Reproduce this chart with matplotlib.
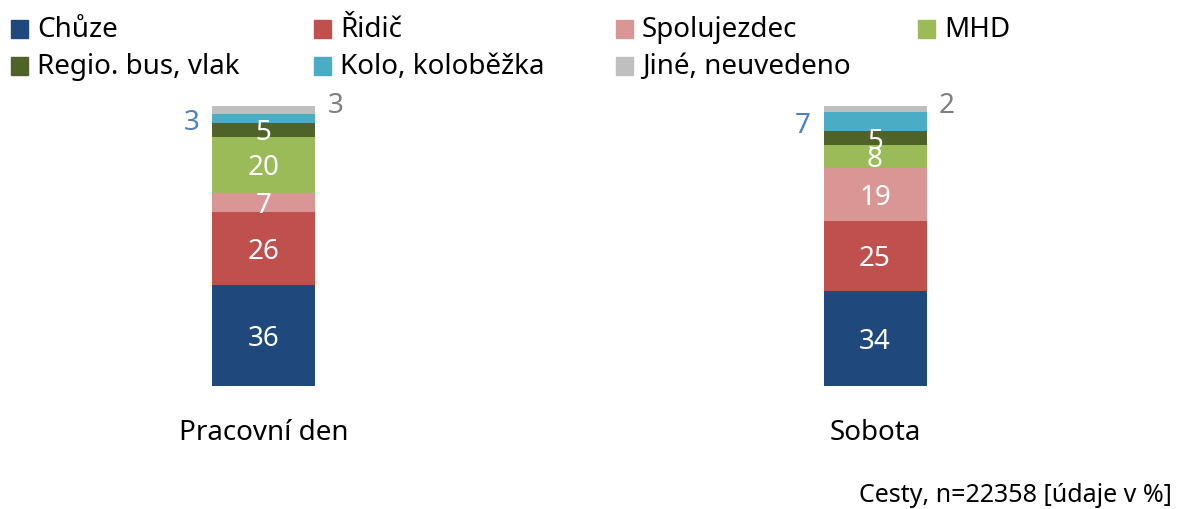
import matplotlib
matplotlib.use("Agg")
import matplotlib.pyplot as plt
from matplotlib.patches import Rectangle

plt.rcParams['font.family'] = ['Noto Sans', 'DejaVu Sans']

categories = ["Pracovní den", "Sobota"]
series = ["Chůze", "Řidič", "Spolujezdec", "MHD", "Regio. bus, vlak", "Kolo, koloběžka", "Jiné, neuvedeno"]
chuze = [36, 34]
ridic = [26, 25]
spolujezdec = [7, 19]
mhd = [20, 8]
regio = [5, 5]
kolo = [3, 7]
jine = [3, 2]
values = [chuze, ridic, spolujezdec, mhd, regio, kolo, jine]
colors = ["#1F497D", "#C0504D", "#DA9694", "#9BBB59", "#4F6228", "#4BACC6", "#BFBFBF"]
footnote = "Cesty, n=22358 [údaje v %]"

W, H = 1179, 509
fig = plt.figure(figsize=(W / 100, H / 100), dpi=100)
ax = fig.add_axes([0, 0, 1, 1])
ax.set_xlim(-263.5 / 611.5, 1 + (W - 875) / 611.5)
ax.set_ylim(-(H - 386) / 2.8, 386 / 2.8)
ax.axis('off')

fs = 20
x = list(range(len(categories)))
width = 103 / 611.5
bottoms = [0.0] * len(categories)
for i, (name, vals, col) in enumerate(zip(series, values, colors)):
    ax.bar(x, vals, width=width, bottom=bottoms, color=col, linewidth=0)
    for j, (b, v) in enumerate(zip(bottoms, vals)):
        cy = b + v / 2
        if name == "Kolo, koloběžka":
            ax.annotate(str(v), (x[j] - width / 2, cy), xytext=(-9, -3), textcoords='offset points',
                        ha='right', va='center', color="#4F81BD", fontsize=fs)
        elif name == "Jiné, neuvedeno":
            ax.annotate(str(v), (x[j] + width / 2, b + v), xytext=(9, 0), textcoords='offset points',
                        ha='left', va='center', color="#7F7F7F", fontsize=fs)
        else:
            ax.annotate(str(v), (x[j], cy), xytext=(0, -2.5), textcoords='offset points',
                        ha='center', va='center', color='white', fontsize=fs)
    bottoms = [b + v for b, v in zip(bottoms, vals)]

for j, c in enumerate(categories):
    ax.annotate(c, (x[j], 0), xytext=(0, -33.5), textcoords='offset points',
                ha='center', va='center', fontsize=fs, color='#000000')

# legend (row-major, 4 columns)
col_x = [11, 314, 616, 918]
row_y = [29, 66]
sq = 17
for i, (name, col) in enumerate(zip(series, colors)):
    r, c = divmod(i, 4)
    px, py = col_x[c], row_y[r]
    fig.patches.append(Rectangle((px / W, 1 - (py + sq / 2) / H), sq / W, sq / H,
                                 transform=fig.transFigure, color=col, figure=fig))
    fig.text((px + sq + 9) / W, 1 - (py + 1) / H, name, ha='left', va='center', fontsize=fs, color='#000000')

fig.text(1172 / W, 1 - 495 / H, footnote, ha='right', va='center', fontsize=18, color='#000000')

fig.savefig("out.png", dpi=100)
